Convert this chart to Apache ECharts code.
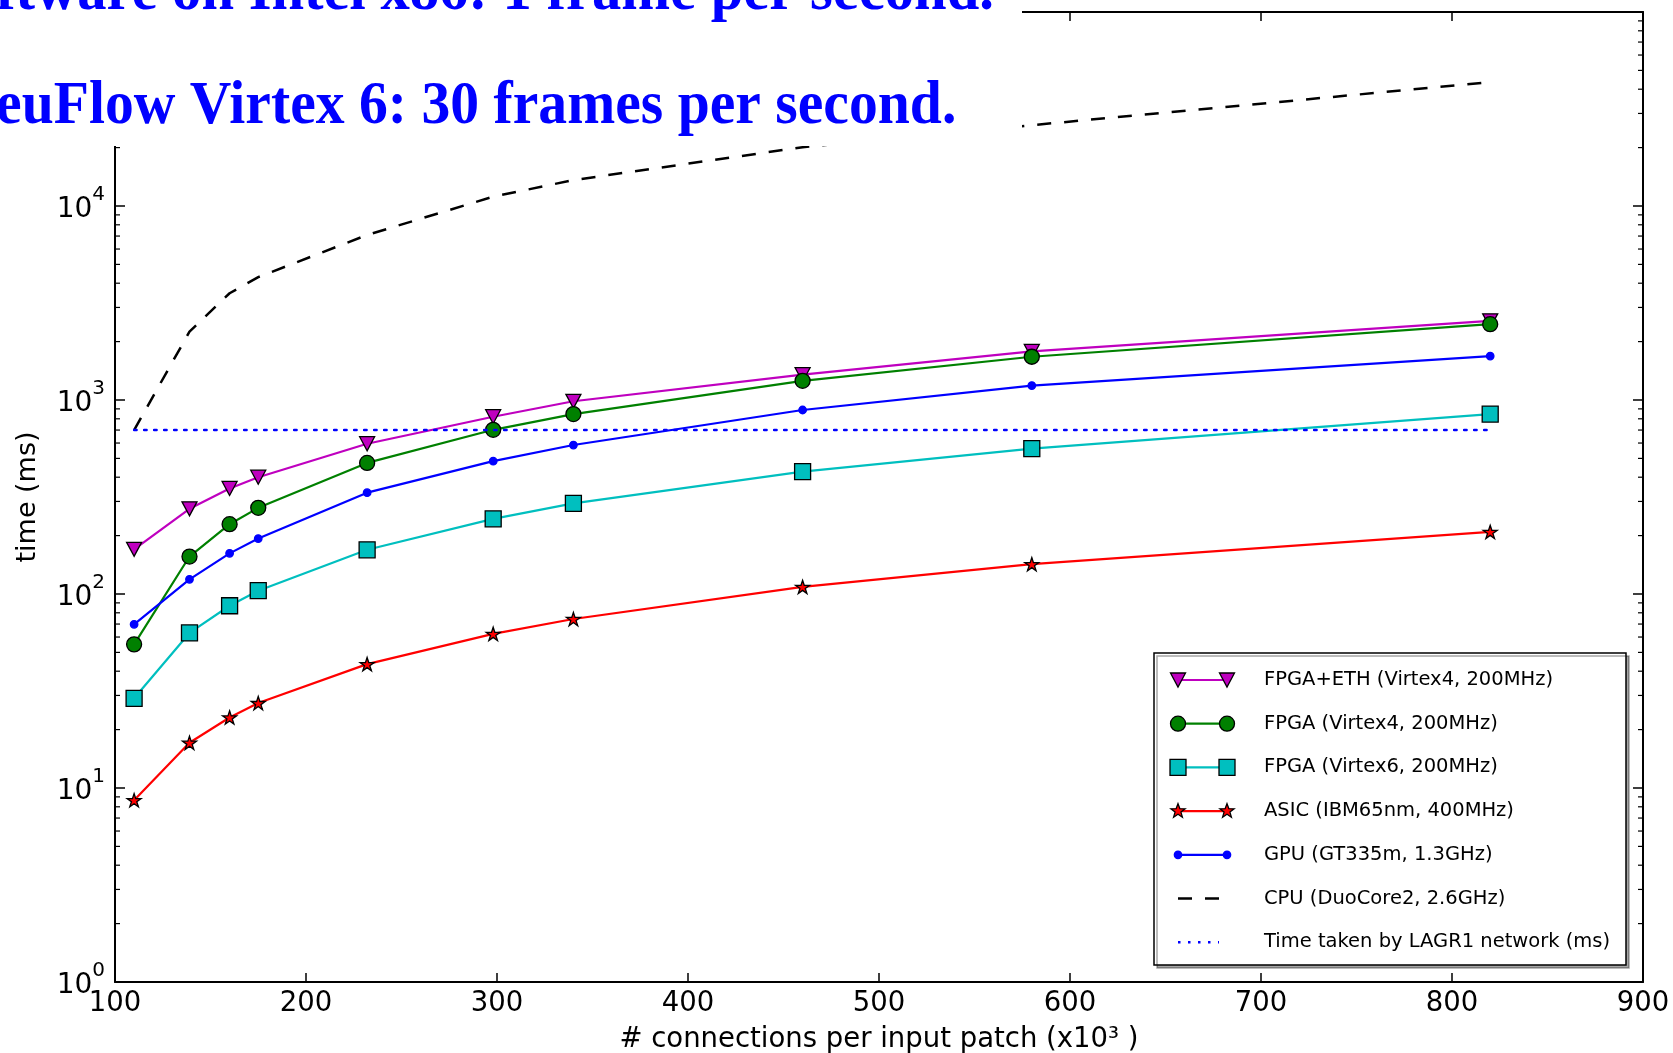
<!DOCTYPE html>
<html>
<head>
<meta charset="utf-8">
<script src="https://cdn.jsdelivr.net/npm/echarts@6/dist/echarts.min.js"></script>
<style>
html,body{margin:0;padding:0;background:#fff;}
#chart{width:1673px;height:1053px;}
</style>
</head>
<body>
<div id="chart"></div>
<script>
// ---- data ----
const connections = [110, 139, 160, 175, 232, 298, 340, 460, 580, 820];
const fpgaEthTime = [170, 275, 350, 400, 595, 820, 985, 1350, 1780, 2560];
const fpgaV4Time = [55, 156, 229, 278, 474, 702, 846, 1256, 1671, 2460];
const fpgaV6Time = [29, 63, 87, 104, 169, 244, 293, 427, 562, 846];
const asicTime = [8.65, 17.1, 23.1, 27.4, 43.5, 62.3, 74.3, 108.8, 142.5, 209];
const gpuTime = [69.8, 119, 162, 193, 333, 484, 586, 888, 1187, 1685];
const cpuTime = [700, 2250, 3550, 4300, 7090, 11170, 13600, 20100, 26100, 43500];
const lagrX = [110, 820];
const lagrTime = [700, 700];

const seriesNames = [
  'FPGA+ETH (Virtex4, 200MHz)',
  'FPGA (Virtex4, 200MHz)',
  'FPGA (Virtex6, 200MHz)',
  'ASIC (IBM65nm, 400MHz)',
  'GPU (GT335m, 1.3GHz)',
  'CPU (DuoCore2, 2.6GHz)',
  'Time taken by LAGR1 network (ms)'
];

const yMajorTicks = [1, 10, 100, 1000, 10000, 100000];
const yTickBase = '10';
const yTickExponents = ['0', '1', '2', '3', '4', '5'];
const yMinorTicks = [2,3,4,5,6,7,8,9, 20,30,40,50,60,70,80,90,
  200,300,400,500,600,700,800,900, 2000,3000,4000,5000,6000,7000,8000,9000,
  20000,30000,40000,50000,60000,70000,80000,90000];
const xAxisTitle = '# connections per input patch (x10³ )';
const yAxisTitle = 'time (ms)';
const overlayLines = ['Software on Intel x86: 1 frame per second.', 'neuFlow Virtex 6: 30 frames per second.'];

// ---- styles ----
const STAR = 'path://M50,0 L61.2,34.5 L97.6,34.5 L68.2,55.9 L79.4,90.5 L50,69.1 L20.6,90.5 L31.8,55.9 L2.4,34.5 L38.8,34.5 Z';
const styles = [
  {color:'#BF00BF', marker:'tri', symbol:'triangle', rotate:180, size:[15,14], border:'#000'},
  {color:'#008000', marker:'circle', symbol:'circle', rotate:0, size:15, border:'#000'},
  {color:'#00BFBF', marker:'square', symbol:'rect', rotate:0, size:16, border:'#000'},
  {color:'#FF0000', marker:'star', symbol:STAR, rotate:0, size:14, border:'#000'},
  {color:'#0000FF', marker:'dot', symbol:'circle', rotate:0, size:7.5, border:'#0000FF'},
  {color:'#000000', marker:'none', dash:[14,13]},
  {color:'#0000FF', marker:'none', dash:[2.5,7.5]}
];
const valueSets = [fpgaEthTime, fpgaV4Time, fpgaV6Time, asicTime, gpuTime, cpuTime];

const series = [];
valueSets.forEach((vals, i) => {
  const st = styles[i];
  series.push({
    name: seriesNames[i], type: 'line',
    data: connections.map((x, k) => [x, vals[k]]),
    z: 3 + i,
    lineStyle: {color: st.color, width: st.dash ? 2.5 : 2.2, type: st.dash || 'solid'},
    itemStyle: {color: st.color, borderColor: st.border || st.color, borderWidth: 1.3},
    symbol: st.marker === 'none' ? 'none' : st.symbol,
    symbolSize: st.size, symbolRotate: st.rotate || 0, symbolKeepAspect: true,
    showSymbol: st.marker !== 'none'
  });
});
series.push({
  name: seriesNames[6], type: 'line', z: 10,
  data: lagrX.map((x, k) => [x, lagrTime[k]]),
  symbol: 'none',
  lineStyle: {color: styles[6].color, width: 2.5, type: styles[6].dash, cap: 'round'}
});
// minor log ticks on left and right frame
series.push({
  type: 'custom', silent: true, z: 20, clip: false,
  data: yMinorTicks.map(v => [100, v]),
  renderItem: function (params, api) {
    const v = api.value(1);
    const pl = api.coord([100, v]);
    const pr = api.coord([900, v]);
    return {type: 'group', children: [
      {type: 'line', shape: {x1: pl[0], y1: pl[1], x2: pl[0] + 5, y2: pl[1]}, style: {stroke: '#000', lineWidth: 1.2}},
      {type: 'line', shape: {x1: pr[0] - 5, y1: pr[1], x2: pr[0], y2: pr[1]}, style: {stroke: '#000', lineWidth: 1.2}}
    ]};
  }
});

// ---- legend (matplotlib style, drawn as graphics) ----
const legBox = {x: 1154, y: 653, w: 472, h: 312};
const legRow0 = 680, legRowGap = 43.7;
const legLineX1 = 1178, legLineX2 = 1227, legTextX = 1264;
function markerEl(kind, cx, cy, st) {
  const style = {fill: st.color, stroke: st.border, lineWidth: 1.3};
  if (kind === 'tri') return {type:'polygon', shape:{points:[[cx-7.5,cy-7],[cx+7.5,cy-7],[cx,cy+7]]}, style};
  if (kind === 'circle') return {type:'circle', shape:{cx, cy, r:7.5}, style};
  if (kind === 'square') return {type:'rect', shape:{x:cx-8, y:cy-8, width:16, height:16}, style};
  if (kind === 'dot') return {type:'circle', shape:{cx, cy, r:3.7}, style};
  if (kind === 'star') {
    const pts = [];
    for (let k = 0; k < 10; k++) {
      const r = k % 2 === 0 ? 7.5 : 3.1;
      const a = -Math.PI / 2 + k * Math.PI / 5;
      pts.push([cx + r * Math.cos(a), cy + r * Math.sin(a)]);
    }
    return {type:'polygon', shape:{points:pts}, style};
  }
  return null;
}
const legendEls = [{
  type: 'rect', shape: {x: legBox.x, y: legBox.y, width: legBox.w, height: legBox.h},
  style: {fill: '#fff', stroke: '#000', lineWidth: 1.5, shadowColor: 'rgba(0,0,0,0.35)', shadowOffsetX: 3, shadowOffsetY: 3, shadowBlur: 0},
  z: 50
}];
seriesNames.forEach((nm, i) => {
  const st = styles[i];
  const cy = legRow0 + i * legRowGap;
  legendEls.push({
    type: 'line', z: 51,
    shape: {x1: legLineX1, y1: cy, x2: i === 6 ? legLineX2 - 8 : legLineX2, y2: cy},
    style: {stroke: st.color, lineWidth: st.dash ? 2.5 : 2.2, lineDash: st.dash || null}
  });
  if (st.marker !== 'none') {
    legendEls.push(Object.assign(markerEl(st.marker, legLineX1, cy, st), {z: 52}));
    legendEls.push(Object.assign(markerEl(st.marker, legLineX2, cy, st), {z: 52}));
  }
  legendEls.push({
    type: 'text', z: 52, x: legTextX, y: cy,
    style: {text: nm, fill: '#000', fontFamily: 'DejaVu Sans', fontSize: 19.5,
            align: 'left', verticalAlign: 'middle', textAlign: 'left', textVerticalAlign: 'middle'}
  });
});

// ---- slide overlay (white box with blue headline text) ----
const overlayEls = [
  {type: 'rect', z: 100, shape: {x: 0, y: 0, width: 1022, height: 146}, style: {fill: '#fff'}},
  {type: 'text', z: 101, x: -66, y: -7, scaleX: 0.945,
   style: {text: overlayLines[0], fill: '#0000FF', fontFamily: 'Liberation Serif', fontWeight: 'bold', fontSize: 62,
           align: 'left', verticalAlign: 'middle', textAlign: 'left', textVerticalAlign: 'middle'}},
  {type: 'text', z: 101, x: -36, y: 107, scaleX: 0.93,
   style: {text: overlayLines[1], fill: '#0000FF', fontFamily: 'Liberation Serif', fontWeight: 'bold', fontSize: 62,
           align: 'left', verticalAlign: 'middle', textAlign: 'left', textVerticalAlign: 'middle'}}
];

const chart = echarts.init(document.getElementById('chart'), null, {renderer: 'canvas'});
chart.setOption({
  animation: false,
  backgroundColor: '#fff',
  grid: {left: 115, right: 30, top: 12, bottom: 71, containLabel: false, outerBoundsMode: 'none'},
  xAxis: [{
    type: 'value', min: 100, max: 900, interval: 100, position: 'bottom',
    axisLine: {show: true, onZero: false, lineStyle: {color: '#000', width: 2}},
    axisTick: {show: true, inside: true, length: 9, lineStyle: {color: '#000', width: 1.5}},
    axisLabel: {margin: 8, color: '#000', fontFamily: 'DejaVu Sans', fontSize: 27.5},
    splitLine: {show: false},
    name: xAxisTitle, nameLocation: 'middle', nameGap: 44,
    nameTextStyle: {color: '#000', fontFamily: 'DejaVu Sans', fontSize: 27.5}
  }, {
    type: 'value', min: 100, max: 900, interval: 100, position: 'top',
    axisLine: {show: true, onZero: false, lineStyle: {color: '#000', width: 2}},
    axisTick: {show: true, inside: true, length: 9, lineStyle: {color: '#000', width: 1.5}},
    axisLabel: {show: false}, splitLine: {show: false}
  }],
  yAxis: [{
    type: 'log', logBase: 10, min: 1, max: 100000, splitNumber: 5, position: 'left',
    axisLine: {show: true, onZero: false, lineStyle: {color: '#000', width: 2}},
    axisTick: {show: true, inside: true, length: 10, lineStyle: {color: '#000', width: 1.5}},
    axisLabel: {
      margin: 10, color: '#000', fontFamily: 'DejaVu Sans',
      formatter: function (v) {
        const idx = yMajorTicks.findIndex(t => Math.abs(Math.log10(t) - Math.log10(v)) < 1e-6);
        return idx >= 0 ? '{a|' + yTickBase + '}{b|' + yTickExponents[idx] + '}' : '';
      },
      rich: {
        a: {fontSize: 28, lineHeight: 42, fontFamily: 'DejaVu Sans', color: '#000', padding: [8, 0, 0, 0]},
        b: {fontSize: 20, lineHeight: 20, verticalAlign: 'top', fontFamily: 'DejaVu Sans', color: '#000'}
      }
    },
    splitLine: {show: false},
    name: yAxisTitle, nameLocation: 'middle', nameGap: 74, nameRotate: 90,
    nameTextStyle: {color: '#000', fontFamily: 'DejaVu Sans', fontSize: 27}
  }, {
    type: 'log', logBase: 10, min: 1, max: 100000, splitNumber: 5, position: 'right',
    axisLine: {show: true, onZero: false, lineStyle: {color: '#000', width: 2}},
    axisTick: {show: true, inside: true, length: 10, lineStyle: {color: '#000', width: 1.5}},
    axisLabel: {show: false}, splitLine: {show: false}
  }],
  series: series,
  graphic: {elements: legendEls.concat(overlayEls)}
});
</script>
</body>
</html>
